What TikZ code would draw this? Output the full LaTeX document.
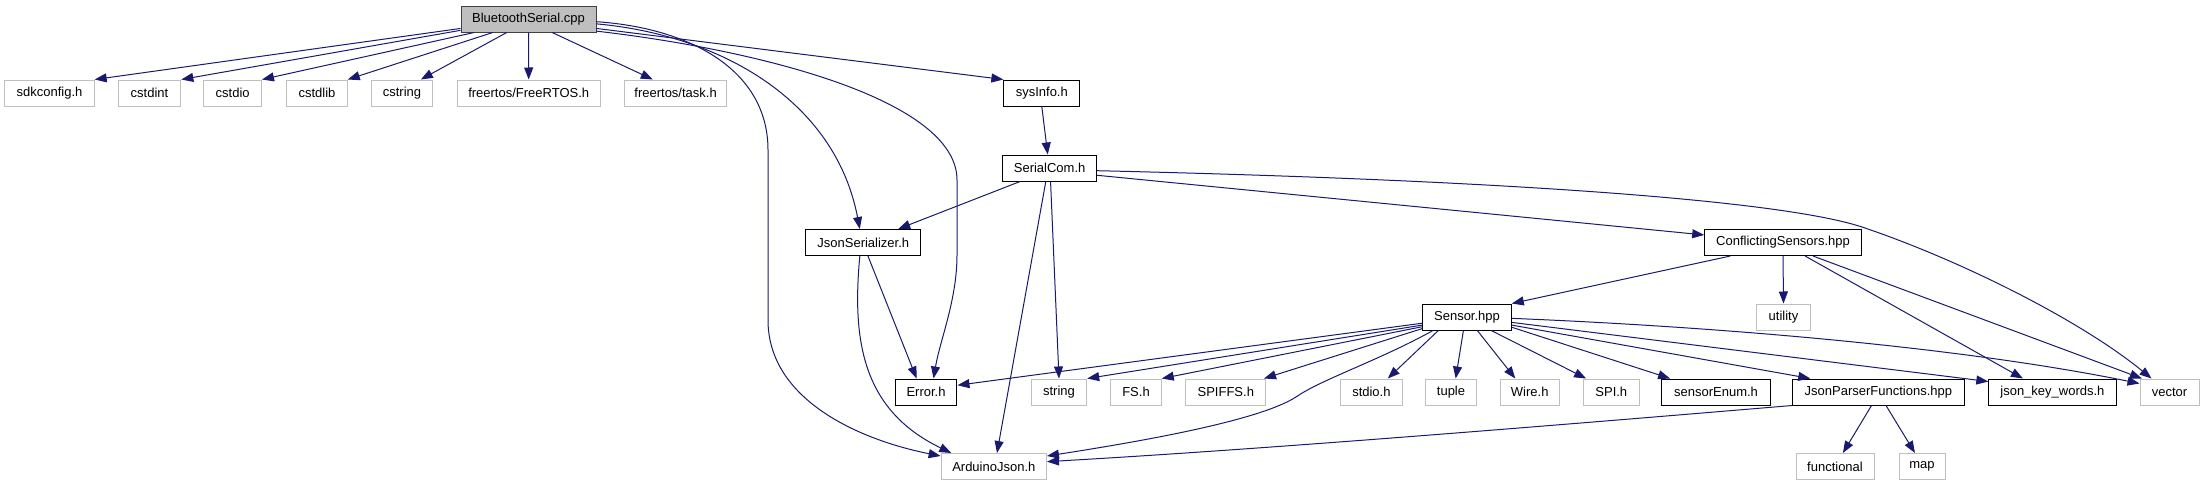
\documentclass[tikz,border=0pt]{standalone}
\usepackage{fontspec}
\setmainfont{Liberation Sans}
\usetikzlibrary{arrows.meta,calc}
\definecolor{edgec}{HTML}{191970}
\definecolor{extc}{HTML}{BFBFBF}
\definecolor{rootfill}{HTML}{BFBFBF}
\definecolor{rootdraw}{HTML}{404040}
\begin{document}
\begin{tikzpicture}[x=1pt,y=-1pt,
  box/.style={rectangle, minimum height=26pt, inner sep=0pt, font=\fontsize{13}{15}\selectfont, line width=1pt},
  ext/.style={box, draw=extc},
  int/.style={box, draw=black},
  root/.style={box, draw=rootdraw, fill=rootfill},
  dep/.style={draw=edgec, line width=1pt, -{Triangle[length=12pt,width=9pt]}}]
\useasboundingbox (0,0) rectangle (2205,485);
% nodes
\node[root, minimum width=135pt] (bs) at (528.5,19) {BluetoothSerial.cpp};
\node[ext, minimum width=89.4pt] (sdk) at (49.5,93) {sdkconfig.h};
\node[ext, minimum width=62.7pt] (cstdint) at (149.5,93) {cstdint};
\node[ext, minimum width=57.6pt] (cstdio) at (232.7,93) {cstdio};
\node[ext, minimum width=60.5pt] (cstdlib) at (317,93) {cstdlib};
\node[ext, minimum width=61.8pt] (cstring) at (402,93) {cstring};
\node[ext, minimum width=143.4pt] (frtos) at (528.7,93) {freertos/FreeRTOS.h};
\node[ext, minimum width=102.6pt] (task) at (675.6,93) {freertos/task.h};
\node[int, minimum width=75.9pt] (sysinfo) at (1041.8,93) {sysInfo.h};
\node[int, minimum width=94.2pt] (serialcom) at (1049.6,168) {SerialCom.h};
\node[int, minimum width=115.3pt] (jsonser) at (863.3,242.5) {JsonSerializer.h};
\node[int, minimum width=156.6pt] (conf) at (1783,242.5) {ConflictingSensors.hpp};
\node[int, minimum width=88.6pt] (sensor) at (1467,317) {Sensor.hpp};
\node[ext, minimum width=54.8pt] (utility) at (1783.5,317) {utility};
\node[int, minimum width=61.9pt] (error) at (926,392) {Error.h};
\node[ext, minimum width=55.4pt] (string) at (1059,392) {string};
\node[ext, minimum width=50.6pt] (fs) at (1136,392) {FS.h};
\node[ext, minimum width=80.3pt] (spiffs) at (1225.8,392) {SPIFFS.h};
\node[ext, minimum width=61.9pt] (stdio) at (1371.4,392) {stdio.h};
\node[ext, minimum width=50.6pt] (tuple) at (1451,392) {tuple};
\node[ext, minimum width=59pt] (wire) at (1529.7,392) {Wire.h};
\node[ext, minimum width=56.2pt] (spi) at (1611.3,392) {SPI.h};
\node[int, minimum width=108.3pt] (senum) at (1716,392) {sensorEnum.h};
\node[int, minimum width=171.5pt] (jpf) at (1878.4,392) {JsonParserFunctions.hpp};
\node[int, minimum width=127.2pt] (jkw) at (2052.4,392) {json\_key\_words.h};
\node[ext, minimum width=59pt] (vector) at (2169.5,392) {vector};
\node[ext, minimum width=105.3pt] (arduino) at (993.8,466.5) {ArduinoJson.h};
\node[ext, minimum width=78pt] (functional) at (1835,466.5) {functional};
\node[ext, minimum width=46pt] (map) at (1922,466.5) {map};
% BluetoothSerial.cpp edges
\draw[dep] ($(bs.north west)!0.85!(bs.south west)$) -- (sdk.north east);
\draw[dep] ($(bs.north west)!0.92!(bs.south west)$) -- (cstdint.north east);
\draw[dep] ($(bs.south west)!0.1!(bs.south east)$) -- (cstdio.north east);
\draw[dep] ($(bs.south west)!0.237!(bs.south east)$) -- (cstdlib.north east);
\draw[dep] ($(bs.south west)!0.34!(bs.south east)$) -- ($(cstring.north west)!0.8!(cstring.north east)$);
\draw[dep] (bs.south) -- (frtos.north);
\draw[dep] ($(bs.south west)!0.674!(bs.south east)$) -- ($(task.north west)!0.28!(task.north east)$);
\draw[dep] ($(bs.north east)!0.6!(bs.south east)$) .. controls (690,28) and (768,70) .. (768,150) -- (768,320) .. controls (768,400) and (860,440) .. ($(arduino.north west)+(0,3)$);
\draw[dep] ($(bs.north east)!0.68!(bs.south east)$) .. controls (720,35) and (835,100) .. ($(jsonser.north west)!0.47!(jsonser.north east)$);
\draw[dep] ($(bs.north east)!0.85!(bs.south east)$) -- (sysinfo.north west);
\draw[dep] ($(bs.north east)!0.95!(bs.south east)$) .. controls (760,50) and (957,100) .. (957,180) -- (957,255) .. controls (957,300) and (940,340) .. ($(error.north west)!0.62!(error.north east)$);
% sysInfo.h
\draw[dep] (sysinfo.south) -- ($(serialcom.north west)!0.48!(serialcom.north east)$);
% SerialCom.h
\draw[dep] ($(serialcom.south west)!0.19!(serialcom.south east)$) -- ($(jsonser.north west)!0.8!(jsonser.north east)$);
\draw[dep] ($(serialcom.south west)!0.46!(serialcom.south east)$) -- ($(arduino.north west)!0.53!(arduino.north east)$);
\draw[dep] ($(serialcom.south west)!0.51!(serialcom.south east)$) -- (string.north);
\draw[dep] ($(serialcom.north east)!0.77!(serialcom.south east)$) -- ($(conf.north west)!0.22!(conf.south west)$);
\draw[dep] ($(serialcom.north east)!0.6!(serialcom.south east)$) .. controls (1500,180) and (1780,200) .. (1862,227) .. controls (1960,260) and (2080,320) .. ($(vector.north west)!0.2!(vector.north east)$);
% JsonSerializer.h
\draw[dep] ($(jsonser.south west)!0.54!(jsonser.south east)$) -- ($(error.north west)!0.35!(error.north east)$);
\draw[dep] ($(jsonser.south west)!0.47!(jsonser.south east)$) .. controls (852,340) and (862,410) .. ($(arduino.north west)!0.1!(arduino.north east)$);
% ConflictingSensors.hpp
\draw[dep] ($(conf.south west)!0.166!(conf.south east)$) -- (sensor.north east);
\draw[dep] (conf.south) -- (utility.north);
\draw[dep] ($(conf.south west)!0.64!(conf.south east)$) -- ($(jkw.north west)!0.27!(jkw.north east)$);
\draw[dep] ($(conf.south west)!0.69!(conf.south east)$) -- ($(vector.north west)!0.04!(vector.north east)$);
% Sensor.hpp
\draw[dep] ($(sensor.north west)!0.73!(sensor.south west)$) -- ($(error.north east)!0.25!(error.south east)$);
\draw[dep] ($(sensor.north west)!0.8!(sensor.south west)$) -- (string.north east);
\draw[dep] ($(sensor.north west)!0.86!(sensor.south west)$) -- (fs.north east);
\draw[dep] ($(sensor.north west)!0.93!(sensor.south west)$) -- ($(spiffs.north west)!0.97!(spiffs.north east)$);
\draw[dep] ($(sensor.south west)!0.18!(sensor.south east)$) -- ($(stdio.north west)!0.76!(stdio.north east)$);
\draw[dep] ($(sensor.south west)!0.46!(sensor.south east)$) -- ($(tuple.north west)!0.59!(tuple.north east)$);
\draw[dep] ($(sensor.south west)!0.615!(sensor.south east)$) -- ($(wire.north west)!0.26!(wire.north east)$);
\draw[dep] ($(sensor.south west)!0.77!(sensor.south east)$) -- ($(spi.north west)!0.06!(spi.north east)$);
\draw[dep] ($(sensor.north east)!0.88!(sensor.south east)$) -- ($(senum.north west)!0.08!(senum.north east)$);
\draw[dep] ($(sensor.north east)!0.8!(sensor.south east)$) -- ($(jpf.north west)!0.105!(jpf.north east)$);
\draw[dep] ($(sensor.north east)!0.7!(sensor.south east)$) -- ($(jkw.north west)+(0,3)$);
\draw[dep] ($(sensor.north east)!0.55!(sensor.south east)$) .. controls (1700,326) and (1950,345) .. ($(vector.north west)+(0,5)$);
\draw[dep] ($(sensor.south west)!0.12!(sensor.south east)$) .. controls (1380,360) and (1320,380) .. (1296,397) .. controls (1260,420) and (1150,440) .. ($(arduino.north east)+(0,3)$);
% JsonParserFunctions.hpp
\draw[dep] (jpf.south west) .. controls (1500,430) and (1250,450) .. ($(arduino.north east)!0.32!(arduino.south east)$);
\draw[dep] ($(jpf.south west)!0.46!(jpf.south east)$) -- ($(functional.north west)!0.6!(functional.north east)$);
\draw[dep] ($(jpf.south west)!0.544!(jpf.south east)$) -- ($(map.north west)!0.35!(map.north east)$);
\end{tikzpicture}
\end{document}
